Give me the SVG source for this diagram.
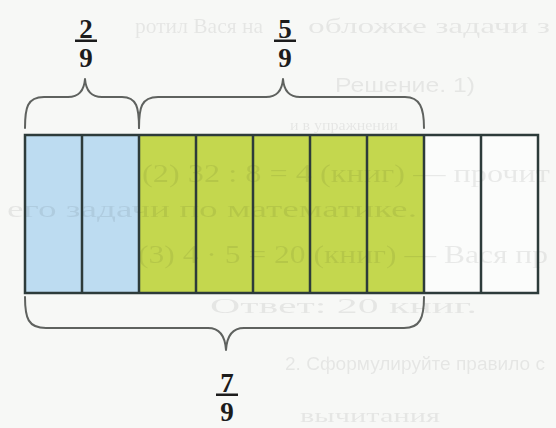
<svg xmlns="http://www.w3.org/2000/svg" width="556" height="428" viewBox="0 0 556 428">
  <style>
    .ghost { fill: #000; fill-opacity: 0.075; font-family: "Liberation Serif", "DejaVu Serif", serif; }
    .ghost-sans { fill: #000; fill-opacity: 0.075; font-family: "Liberation Sans", "DejaVu Sans", sans-serif; }
    .cell { stroke: #2d3b3a; stroke-width: 2.5; }
    .blue { fill: #bddcf1; }
    .green { fill: #c4d74e; }
    .white { fill: #fbfcfb; }
    .brace { fill: none; stroke: #5f625f; stroke-width: 2; stroke-linecap: round; stroke-linejoin: round; }
    .num { font-family: "Liberation Serif", "DejaVu Serif", serif; font-weight: bold; font-size: 27px; fill: #1c1c1c; text-anchor: middle; }
    .bar { fill: #1c1c1c; }
  </style>
  <defs>
    <filter id="soft" x="-5%" y="-20%" width="110%" height="140%">
      <feGaussianBlur stdDeviation="0.7"/>
    </filter>
  </defs>

  <!-- paper -->
  <rect x="0" y="0" width="556" height="428" fill="#f7f8f6"/>

  <!-- strip of nine equal parts -->
  <g id="strip">
    <rect class="blue" x="25" y="135" width="57" height="158"/>
    <rect class="blue" x="82" y="135" width="57" height="158"/>
    <rect class="green" x="139" y="135" width="57" height="158"/>
    <rect class="green" x="196" y="135" width="57" height="158"/>
    <rect class="green" x="253" y="135" width="57" height="158"/>
    <rect class="green" x="310" y="135" width="57" height="158"/>
    <rect class="green" x="367" y="135" width="57" height="158"/>
    <rect class="white" x="424" y="135" width="57" height="158"/>
    <rect class="white" x="481" y="135" width="57" height="158"/>
  </g>

  <!-- faint print showing through the page -->
  <g id="show-through" filter="url(#soft)">
    <text class="ghost" x="135" y="33" font-size="22" textLength="128" lengthAdjust="spacingAndGlyphs">ротил Вася на</text>
    <text class="ghost" x="308" y="33" font-size="22" textLength="242" lengthAdjust="spacingAndGlyphs">обложке задачи з</text>
    <text class="ghost-sans" x="335" y="92" font-size="21" textLength="140" lengthAdjust="spacingAndGlyphs">Решение. 1)</text>
    <text class="ghost" x="290" y="130" font-size="14" textLength="108" lengthAdjust="spacingAndGlyphs">и в упражнении</text>
    <text class="ghost" x="142" y="182" font-size="26" textLength="408" lengthAdjust="spacingAndGlyphs">(2) 32 : 8 = 4 (книг) — прочит</text>
    <text class="ghost" x="7" y="217" font-size="23" textLength="410" lengthAdjust="spacingAndGlyphs">его задачи по математике.</text>
    <text class="ghost" x="138" y="263" font-size="26" textLength="410" lengthAdjust="spacingAndGlyphs">(3) 4 · 5 = 20 (книг) — Вася пр</text>
    <text class="ghost" x="210" y="313" font-size="22" textLength="267" lengthAdjust="spacingAndGlyphs">Ответ: 20 книг.</text>
    <text class="ghost-sans" x="285" y="370" font-size="18" textLength="260" lengthAdjust="spacingAndGlyphs">2. Сформулируйте правило с</text>
    <text class="ghost" x="300" y="422" font-size="18" textLength="140" lengthAdjust="spacingAndGlyphs">вычитания</text>
  </g>

  <!-- cell borders -->
  <g id="grid" class="cell" fill="none">
    <rect x="25" y="135" width="513" height="158"/>
    <line x1="82" y1="135" x2="82" y2="293"/>
    <line x1="139" y1="135" x2="139" y2="293"/>
    <line x1="196" y1="135" x2="196" y2="293"/>
    <line x1="253" y1="135" x2="253" y2="293"/>
    <line x1="310" y1="135" x2="310" y2="293"/>
    <line x1="367" y1="135" x2="367" y2="293"/>
    <line x1="424" y1="135" x2="424" y2="293"/>
    <line x1="481" y1="135" x2="481" y2="293"/>
  </g>

  <!-- braces -->
  <g id="braces">
    <path class="brace" d="M25,128 C25,108 27,97 44,97 L68,97 C78,97 84,92 85,79 C86,92 92,97 102,97 L122,97 C137,97 139,108 139,128"/>
    <path class="brace" d="M139,128 C139,108 141,97 158,97 L266,97 C276,97 282,92 283,79 C284,92 290,97 300,97 L405,97 C420,97 424,108 424,128"/>
    <path class="brace" d="M25,297 C25,318 28,328 46,328 L208,328 C218,328 225,334 226,350 C227,334 234,328 244,328 L404,328 C420,328 424,318 424,297"/>
  </g>

  <!-- fractions -->
  <g id="label-2-9">
    <text class="num" x="86" y="38">2</text>
    <rect class="bar" x="75" y="39.5" width="22" height="2.5"/>
    <text class="num" x="86" y="67">9</text>
  </g>
  <g id="label-5-9">
    <text class="num" x="285" y="38">5</text>
    <rect class="bar" x="274" y="39.5" width="22" height="2.5"/>
    <text class="num" x="285" y="67">9</text>
  </g>
  <g id="label-7-9">
    <text class="num" x="227" y="392">7</text>
    <rect class="bar" x="216" y="393.5" width="22" height="2.5"/>
    <text class="num" x="227" y="421">9</text>
  </g>
</svg>
